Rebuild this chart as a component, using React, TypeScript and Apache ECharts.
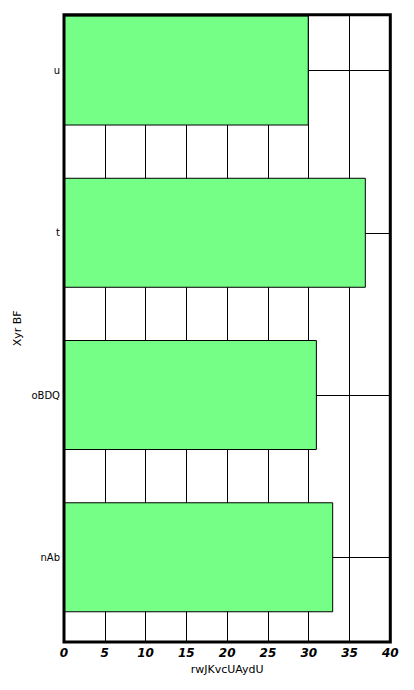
import React, { useEffect, useRef } from "react";
import * as echarts from "echarts";

const categories = ["nAb", "oBDQ", "t", "u"];
const values = [33, 31, 37, 30];
const xTicks = { min: 0, max: 40, interval: 5 };
const xName = "rwJKvcUAydU";
const yName = "Xyr BF";

const SHIFT = 12;

export default function App() {
  const ref = useRef<HTMLDivElement>(null);
  useEffect(() => {
    if (!ref.current) return;
    const chart = echarts.init(ref.current, undefined, { renderer: "svg" });
    const font = "DejaVu Sans";
    chart.setOption({
      animation: false,
      textStyle: { fontFamily: font },
      grid: [
        {
          left: 64,
          right: 23.7,
          top: 14.7 + SHIFT,
          bottom: 48,
          show: true,
          borderColor: "#000",
          borderWidth: 3,
          backgroundColor: "transparent",
          z: 5,
        },
        {
          left: 64,
          right: 23.7,
          top: -10.6 + SHIFT,
          height: 649,
        },
      ],
      xAxis: [
        {
          gridIndex: 0,
          type: "value",
          min: xTicks.min,
          max: xTicks.max,
          interval: xTicks.interval,
          axisLine: { show: false },
          axisTick: { show: false },
          axisLabel: {
            color: "#000",
            fontSize: 12,
            fontWeight: "bold",
            fontStyle: "italic",
            fontFamily: font,
            margin: 5,
          },
          splitLine: { show: true, lineStyle: { color: "#000", width: 1 } },
          name: xName,
          nameLocation: "middle",
          nameGap: 22,
          nameTextStyle: { color: "#000", fontSize: 11, fontFamily: font },
        },
        {
          gridIndex: 1,
          type: "value",
          min: xTicks.min,
          max: xTicks.max,
          show: false,
        },
      ],
      yAxis: [
        {
          gridIndex: 0,
          type: "value",
          axisLine: { show: false },
          axisTick: { show: false },
          axisLabel: { show: false },
          splitLine: { show: false },
          name: yName,
          nameLocation: "middle",
          nameGap: 41,
          nameTextStyle: { color: "#000", fontSize: 11, fontFamily: font },
        },
        {
          gridIndex: 1,
          type: "category",
          data: categories,
          axisLine: { show: false },
          axisTick: {
            show: true,
            inside: true,
            alignWithLabel: true,
            length: 326.3,
            lineStyle: { color: "#000", width: 1 },
          },
          axisLabel: { color: "#000", fontSize: 10, fontFamily: font, margin: 4 },
          splitLine: { show: false },
        },
      ],
      series: [
        {
          type: "bar",
          xAxisIndex: 1,
          yAxisIndex: 1,
          data: values,
          barWidth: 110,
          itemStyle: { color: "#75ff87", borderColor: "#000", borderWidth: 1 },
        },
      ],
    });
    return () => chart.dispose();
  }, []);
  return (
    <div
      ref={ref}
      style={{ width: 414, height: 690 + SHIFT, marginLeft: -8, marginTop: -8 - SHIFT }}
    />
  );
}
